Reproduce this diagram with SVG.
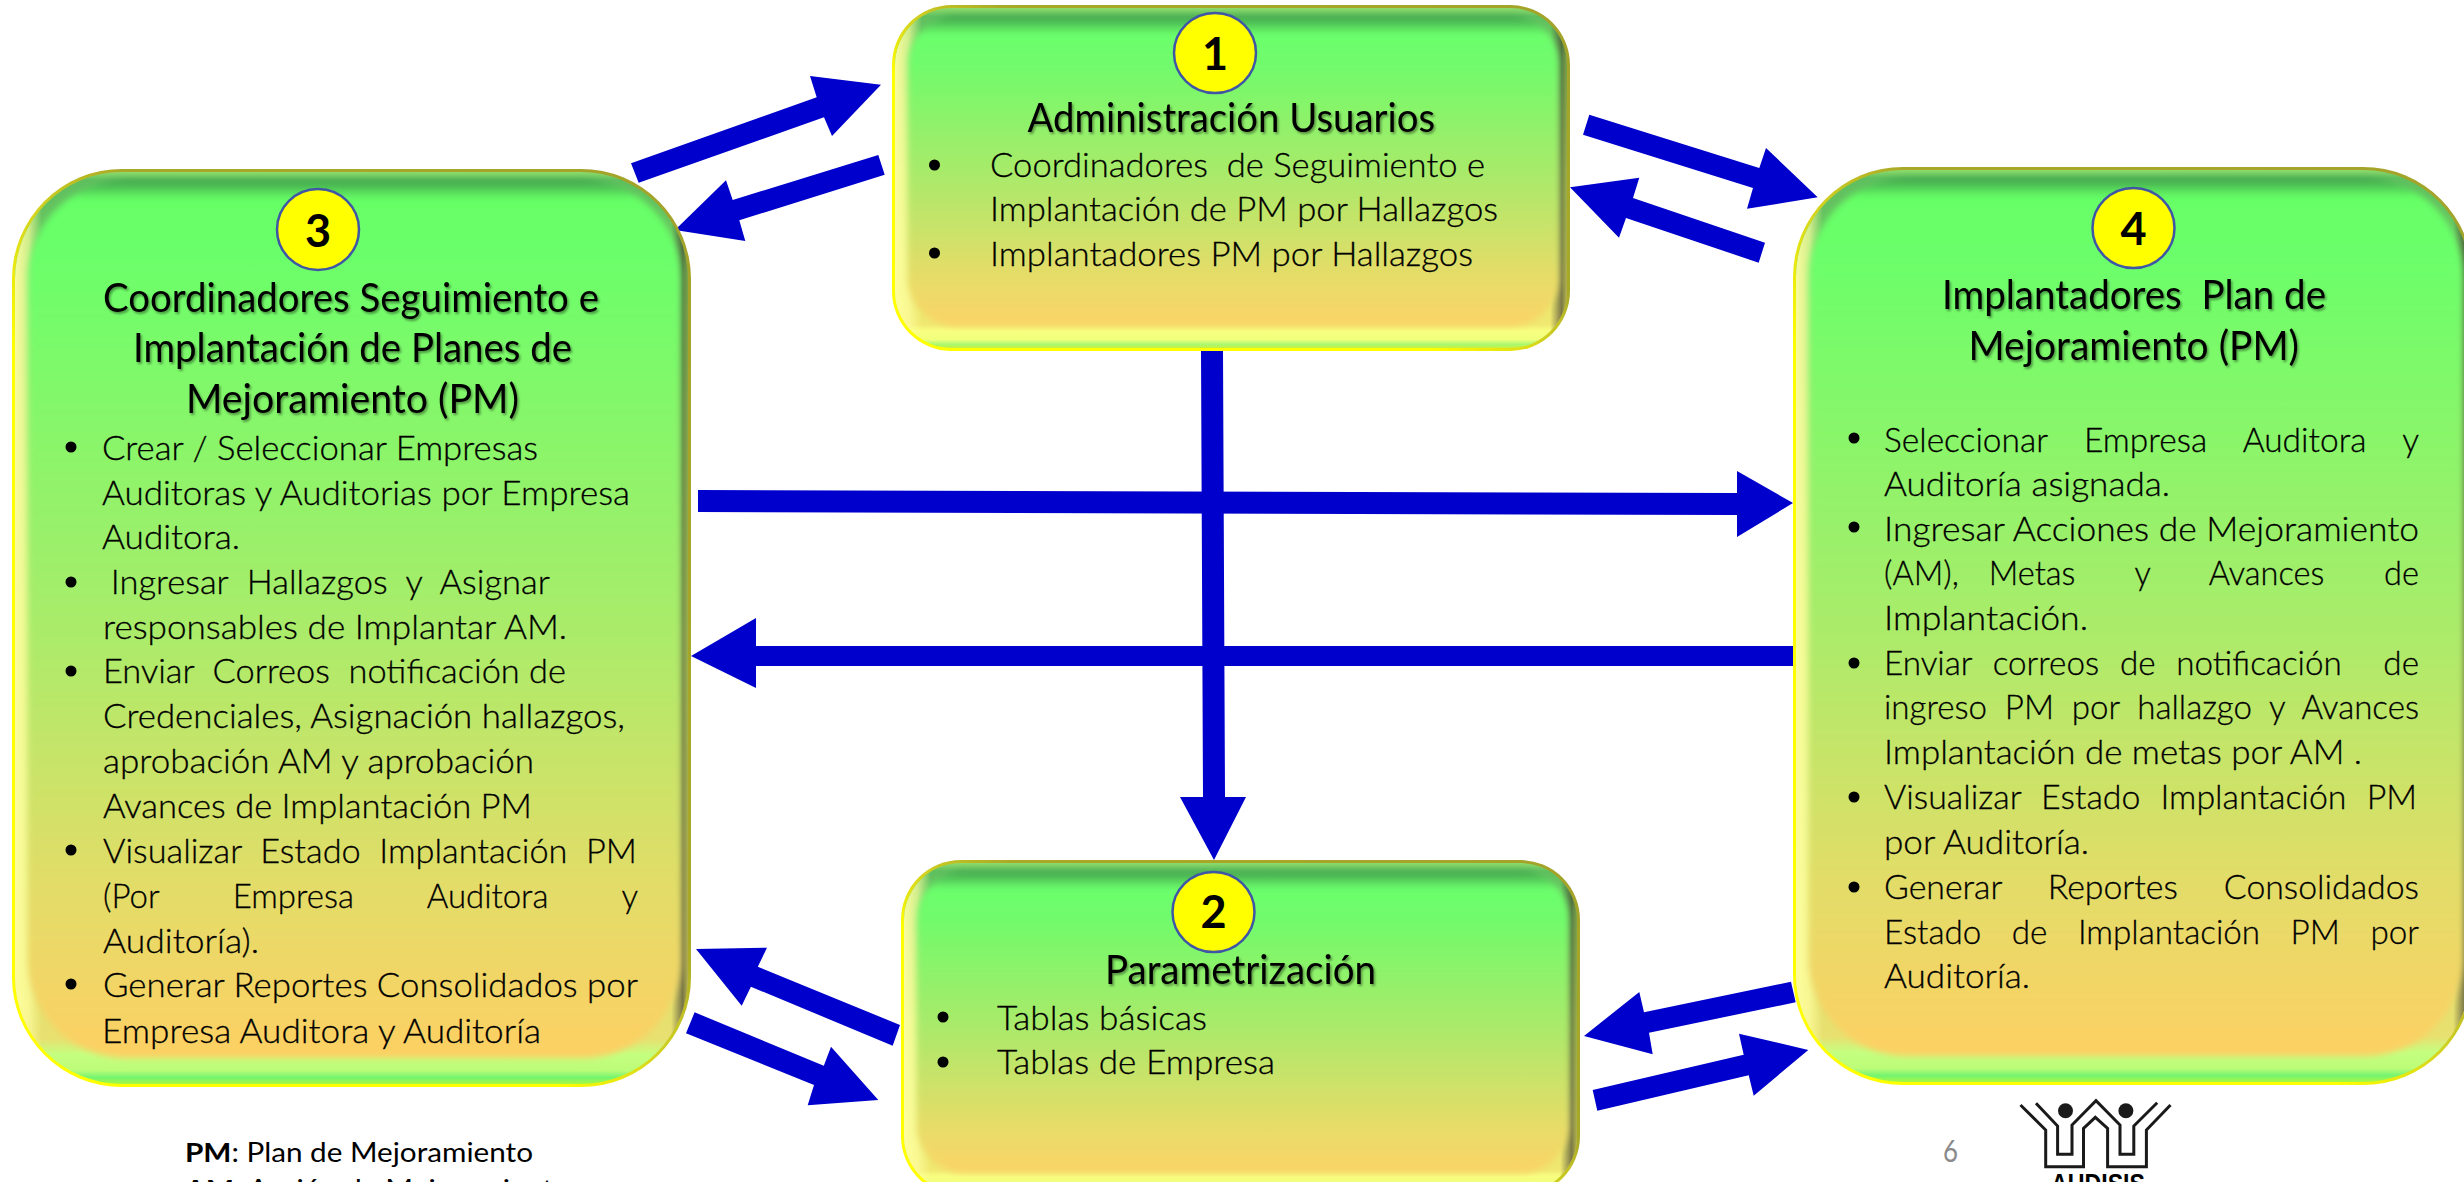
<svg xmlns="http://www.w3.org/2000/svg" width="2464" height="1182" viewBox="0 0 2464 1182">
<style>
text{font-family:Lato,"Open Sans","Liberation Sans",sans-serif;fill:#000;white-space:pre}
.b{font-size:34px;font-weight:300;stroke:#000;stroke-width:.3}
.t{font-size:40px;font-weight:400;filter:url(#ts)}
.n{font-size:45px;font-weight:700;text-anchor:middle}
.f{font-size:26px;font-weight:400}
.arrow{fill:#0000cc;stroke:none}
.c{fill:#ffff00;stroke:#3f55a5;stroke-width:2.5}
.logo{fill:none;stroke:#1a1a1a;stroke-width:3}
.edge{fill:url(#edge)}
.side{fill:url(#sides)}
.soft{filter:url(#blur)}
</style>
<defs>
<filter id="ts" x="-5%" y="-20%" width="110%" height="150%"><feDropShadow dx="1.5" dy="2" stdDeviation="1" flood-color="#000" flood-opacity=".4"/></filter>
<filter id="blur" x="-3%" y="-3%" width="106%" height="106%"><feGaussianBlur stdDeviation="3"/></filter>
<linearGradient id="edge" x1="1" y1="0" x2="0" y2="1"><stop offset="0" stop-color="#a3a32a"/><stop offset=".42" stop-color="#a9a928"/><stop offset=".5" stop-color="#d0d020"/><stop offset=".6" stop-color="#ffff00"/><stop offset="1" stop-color="#ffff00"/></linearGradient>
<linearGradient id="sides"><stop offset="0" stop-color="#ffffa0" stop-opacity=".95"/><stop offset=".02" stop-color="#ffffa0" stop-opacity=".7"/><stop offset=".04" stop-color="#ffffa0" stop-opacity="0"/><stop offset=".975" stop-color="#403c30" stop-opacity="0"/><stop offset=".992" stop-color="#403c30" stop-opacity=".65"/><stop offset="1" stop-color="#807c30" stop-opacity=".5"/></linearGradient>
<linearGradient id="bevT" x1="0" y1="0" x2="0" y2="1"><stop offset="0" stop-color="#8fdc6c"/><stop offset=".009" stop-color="#5fbf5f"/><stop offset=".5" stop-color="#b8e868"/><stop offset=".95" stop-color="#e8e070"/><stop offset=".968" stop-color="#c4ff80"/><stop offset=".985" stop-color="#bcfc78"/><stop offset=".993" stop-color="#74f470"/><stop offset="1" stop-color="#a8f840"/></linearGradient>
<linearGradient id="bevS" x1="0" y1="0" x2="0" y2="1"><stop offset="0" stop-color="#8fdc6c"/><stop offset=".025" stop-color="#5fbf5f"/><stop offset=".5" stop-color="#b8e868"/><stop offset=".93" stop-color="#f0e870"/><stop offset=".95" stop-color="#f8ff80"/><stop offset=".975" stop-color="#f0ff7c"/><stop offset=".99" stop-color="#a8f870"/><stop offset="1" stop-color="#c8f040"/></linearGradient>
<linearGradient id="mainT" x1="0" y1="0" x2="0" y2="1"><stop offset="0" stop-color="#3f9e4a"/><stop offset=".022" stop-color="#66ff66"/><stop offset=".08" stop-color="#6aff6a"/><stop offset=".5" stop-color="#a8ec6a"/><stop offset=".8" stop-color="#e2dd68"/><stop offset="1" stop-color="#fdd064"/></linearGradient>
<linearGradient id="mainS" x1="0" y1="0" x2="0" y2="1"><stop offset="0" stop-color="#3f9e4a"/><stop offset=".06" stop-color="#6cff6c"/><stop offset=".15" stop-color="#70fb6c"/><stop offset=".55" stop-color="#b0e86a"/><stop offset=".85" stop-color="#e8dc68"/><stop offset="1" stop-color="#fbd466"/></linearGradient>
</defs>

<g id="connectors">
<polygon class="arrow" points="631,163.3 638.7,182.7 824,117.3 832,136 881,84.7 810,76 816.7,97.3"/>
<polygon class="arrow" points="878.3,155 884.7,174.7 739.3,220.3 745.3,241 675,230 726,180.3 732.7,200"/>
<polygon class="arrow" points="1589.3,114.7 1583,134.7 1753,188 1747,208.7 1817.7,197.3 1766,148 1759.3,168"/>
<polygon class="arrow" points="1765,242.7 1758.7,262.7 1626,218 1619,237.7 1570,187.3 1639.3,177.7 1633,198"/>
<polygon class="arrow" points="1791,981.7 1795.7,1002.3 1649,1032.7 1652.7,1054.3 1584,1036 1639.3,992 1644,1012.3"/>
<polygon class="arrow" points="1592.7,1090 1597.3,1110.7 1748.7,1075.3 1753.7,1095.7 1808.3,1050 1739,1033.7 1743.7,1054.7"/>
<polygon class="arrow" points="900,1025 892.7,1045.7 750.9,986.7 741.7,1005.7 696,949 767,947.7 757.8,966.7"/>
<polygon class="arrow" points="694.6,1012.3 686,1033.3 814,1085 807.7,1105.3 878.3,1100 831,1046.7 823.8,1065.7"/>
<polygon class="arrow" points="698,490 698,512 1737,515 1737,537 1793,503 1737,471 1737,493"/>
<polygon class="arrow" points="1793,646 1793,666 756,666 756,688 691,656 756,618 756,646"/>
<polygon class="arrow" points="1201,351 1223,351 1225,797 1246,797 1214,860 1180,797 1203,797"/>
</g>

<g id="node-1">
<rect class="edge" x="892" y="5" width="678" height="346" rx="60"/>
<rect x="895" y="8" width="672" height="340" rx="57" fill="url(#bevS)"/>
<rect class="side" x="895" y="8" width="672" height="340" rx="57"/>
<rect class="soft" x="908" y="16" width="651" height="310" rx="48" fill="url(#mainS)"/>
<ellipse class="c" cx="1215" cy="53" rx="41" ry="40"/>
<text class="n" x="1215" y="70">1</text>
<text class="t" x="1027.5" y="131.7" textLength="407.5" lengthAdjust="spacingAndGlyphs">Administración Usuarios</text>
<circle cx="934.5" cy="165" r="5.5"/>
<text class="b" x="990" y="177" textLength="495" lengthAdjust="spacingAndGlyphs">Coordinadores  de Seguimiento e</text>
<text class="b" x="990" y="221" textLength="508" lengthAdjust="spacingAndGlyphs">Implantación de PM por Hallazgos</text>
<circle cx="934.5" cy="253" r="5.5"/>
<text class="b" x="990" y="265.7" textLength="483" lengthAdjust="spacingAndGlyphs">Implantadores PM por Hallazgos</text>
</g>

<g id="node-2">
<rect class="edge" x="901" y="860" width="679" height="336" rx="60"/>
<rect x="904" y="863" width="673" height="330" rx="57" fill="url(#bevS)"/>
<rect class="side" x="904" y="863" width="673" height="330" rx="57"/>
<rect class="soft" x="917" y="871" width="652" height="302" rx="48" fill="url(#mainS)"/>
<ellipse class="c" cx="1213.5" cy="912" rx="41" ry="40"/>
<text class="n" x="1213.5" y="928">2</text>
<text class="t" x="1105" y="984" textLength="271" lengthAdjust="spacingAndGlyphs">Parametrización</text>
<circle cx="943" cy="1017" r="5.5"/>
<text class="b" x="997" y="1030" textLength="210" lengthAdjust="spacingAndGlyphs">Tablas básicas</text>
<circle cx="943" cy="1062" r="5.5"/>
<text class="b" x="997" y="1074" textLength="278" lengthAdjust="spacingAndGlyphs">Tablas de Empresa</text>
</g>

<g id="node-3">
<rect class="edge" x="12" y="169" width="679" height="918" rx="110"/>
<rect x="15" y="172" width="673" height="912" rx="107" fill="url(#bevT)"/>
<rect class="side" x="15" y="172" width="673" height="912" rx="107"/>
<rect class="soft" x="28" y="180" width="653" height="878" rx="98" fill="url(#mainT)"/>
<ellipse class="c" cx="318" cy="229.5" rx="41" ry="40.5"/>
<text class="n" x="318" y="247">3</text>
<text class="t" x="103" y="312" textLength="496" lengthAdjust="spacingAndGlyphs">Coordinadores Seguimiento e</text>
<text class="t" x="133" y="362" textLength="439" lengthAdjust="spacingAndGlyphs">Implantación de Planes de</text>
<text class="t" x="186" y="413" textLength="333" lengthAdjust="spacingAndGlyphs">Mejoramiento (PM)</text>
<circle cx="71" cy="447" r="5.5"/>
<text class="b" x="102" y="460" textLength="436" lengthAdjust="spacingAndGlyphs">Crear / Seleccionar Empresas</text>
<text class="b" x="102" y="505" textLength="528" lengthAdjust="spacingAndGlyphs">Auditoras y Auditorias por Empresa</text>
<text class="b" x="102" y="549" textLength="138" lengthAdjust="spacingAndGlyphs">Auditora.</text>
<circle cx="71" cy="582" r="5.5"/>
<text class="b" x="110.7" y="594" textLength="439.3" lengthAdjust="spacingAndGlyphs">Ingresar  Hallazgos  y  Asignar</text>
<text class="b" x="103" y="639" textLength="464" lengthAdjust="spacingAndGlyphs">responsables de Implantar AM.</text>
<circle cx="71" cy="671" r="5.5"/>
<text class="b" x="103" y="683.3" textLength="463" lengthAdjust="spacingAndGlyphs">Enviar  Correos  notificación de</text>
<text class="b" x="103" y="728" textLength="522" lengthAdjust="spacingAndGlyphs">Credenciales, Asignación hallazgos,</text>
<text class="b" x="103" y="773" textLength="431" lengthAdjust="spacingAndGlyphs">aprobación AM y aprobación</text>
<text class="b" x="103" y="818" textLength="429" lengthAdjust="spacingAndGlyphs">Avances de Implantación PM</text>
<circle cx="71" cy="850" r="5.5"/>
<text class="b" x="103" y="863" textLength="534" lengthAdjust="spacingAndGlyphs">Visualizar  Estado  Implantación  PM</text>
<text class="b" x="103" y="908" textLength="535" lengthAdjust="spacingAndGlyphs" word-spacing="67">(Por Empresa Auditora y</text>
<text class="b" x="103" y="953" textLength="156" lengthAdjust="spacingAndGlyphs">Auditoría).</text>
<circle cx="71" cy="984" r="5.5"/>
<text class="b" x="103" y="997" textLength="535" lengthAdjust="spacingAndGlyphs">Generar Reportes Consolidados por</text>
<text class="b" x="102" y="1043" textLength="439" lengthAdjust="spacingAndGlyphs">Empresa Auditora y Auditoría</text>
</g>

<g id="node-4">
<rect class="edge" x="1793" y="167" width="680" height="918" rx="110"/>
<rect x="1796" y="170" width="674" height="912" rx="107" fill="url(#bevT)"/>
<rect class="side" x="1796" y="170" width="674" height="912" rx="107"/>
<rect class="soft" x="1809" y="178" width="654" height="878" rx="98" fill="url(#mainT)"/>
<ellipse class="c" cx="2133.5" cy="228" rx="41" ry="40"/>
<text class="n" x="2133.5" y="245">4</text>
<text class="t" x="1942" y="309" textLength="384" lengthAdjust="spacingAndGlyphs">Implantadores  Plan de</text>
<text class="t" x="1968.5" y="360" textLength="330.5" lengthAdjust="spacingAndGlyphs">Mejoramiento (PM)</text>
<circle cx="1854" cy="438" r="5.5"/>
<text class="b" x="1884" y="451.7" textLength="535" lengthAdjust="spacingAndGlyphs" word-spacing="28">Seleccionar Empresa Auditora y</text>
<text class="b" x="1884" y="495.7" textLength="286" lengthAdjust="spacingAndGlyphs">Auditoría asignada.</text>
<circle cx="1854" cy="527" r="5.5"/>
<text class="b" x="1884" y="540.7" textLength="535" lengthAdjust="spacingAndGlyphs">Ingresar Acciones de Mejoramiento</text>
<text class="b" x="1884" y="585" textLength="535" lengthAdjust="spacingAndGlyphs" word-spacing="22">(AM), Metas  y  Avances  de</text>
<text class="b" x="1884" y="630" textLength="204" lengthAdjust="spacingAndGlyphs">Implantación.</text>
<circle cx="1854" cy="663" r="5.5"/>
<text class="b" x="1884" y="675" textLength="535" lengthAdjust="spacingAndGlyphs" word-spacing="12">Enviar correos de notificación  de</text>
<text class="b" x="1884" y="719.3" textLength="535" lengthAdjust="spacingAndGlyphs" word-spacing="9">ingreso PM por hallazgo y Avances</text>
<text class="b" x="1884" y="764" textLength="478" lengthAdjust="spacingAndGlyphs">Implantación de metas por AM .</text>
<circle cx="1854" cy="797" r="5.5"/>
<text class="b" x="1884" y="809" textLength="533" lengthAdjust="spacingAndGlyphs" word-spacing="11">Visualizar Estado Implantación PM</text>
<text class="b" x="1884" y="854" textLength="205" lengthAdjust="spacingAndGlyphs">por Auditoría.</text>
<circle cx="1854" cy="887" r="5.5"/>
<text class="b" x="1884" y="899" textLength="535" lengthAdjust="spacingAndGlyphs" word-spacing="37">Generar Reportes Consolidados</text>
<text class="b" x="1884" y="944" textLength="535" lengthAdjust="spacingAndGlyphs" word-spacing="22">Estado de Implantación PM por</text>
<text class="b" x="1884" y="988" textLength="146" lengthAdjust="spacingAndGlyphs">Auditoría.</text>
</g>

<g id="footer">
<text class="f" x="185" y="1162" textLength="348" lengthAdjust="spacingAndGlyphs"><tspan font-weight="700">PM</tspan>: Plan de Mejoramiento</text>
<text class="f" x="185" y="1198.5" textLength="385" lengthAdjust="spacingAndGlyphs"><tspan font-weight="700">AM</tspan>: Acción de Mejoramiento</text>
<text x="1943" y="1162" font-size="30" style="fill:#8a8a8a" textLength="15" lengthAdjust="spacingAndGlyphs">6</text>
</g>

<g id="logo">
<polyline class="logo" points="2020.5,1105 2045.7,1130 2045.7,1166.7 2083.5,1166.7 2083.5,1128.3 2095.3,1117.3 2107.6,1128.3 2107.6,1166.7 2146.4,1166.7 2146.4,1130 2170.5,1105"/>
<polyline class="logo" points="2036,1103.3 2057.6,1126 2057.6,1154.3 2072,1154.3 2072,1125 2096,1100.7 2120,1125 2120,1154.3 2133.8,1154.3 2133.8,1126 2157.2,1102.7"/>
<circle cx="2065.5" cy="1110.7" r="7.5" fill="#1a1a1a"/>
<circle cx="2125.9" cy="1110.7" r="7.5" fill="#1a1a1a"/>
<text x="2051" y="1193" font-size="28" font-weight="900" textLength="94" lengthAdjust="spacingAndGlyphs" style='font-family:"Liberation Sans",sans-serif'>AUDISIS</text>
</g>
</svg>
